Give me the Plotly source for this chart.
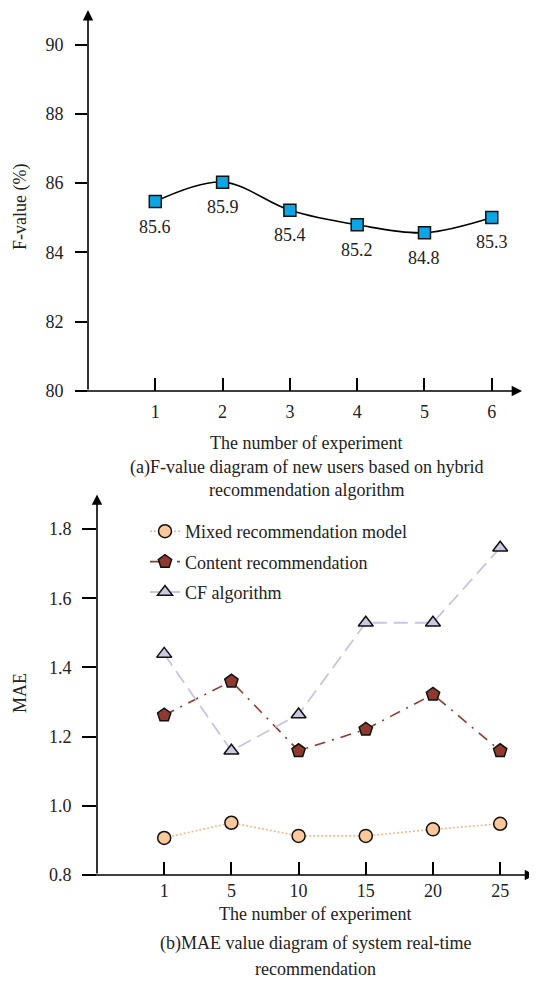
import plotly.graph_objects as go

# ---------------- data ----------------
exp_a = [1, 2, 3, 4, 5, 6]
fvalue = [85.47, 86.03, 85.22, 84.80, 84.57, 85.01]
fvalue_labels = ["85.6", "85.9", "85.4", "85.2", "84.8", "85.3"]
fvalue_ticks = [80, 82, 84, 86, 88, 90]

exp_b = ["1", "5", "10", "15", "20", "25"]
mixed = [0.907, 0.951, 0.913, 0.913, 0.932, 0.948]
content = [1.262, 1.360, 1.159, 1.221, 1.322, 1.159]
cf = [1.439, 1.159, 1.264, 1.529, 1.529, 1.746]
mae_ticks = [0.8, 1.0, 1.2, 1.4, 1.6, 1.8]

FONT = "Liberation Serif, Times New Roman, serif"
FS = 18
OFF = 8          # page body margin
W, H = 529, 974


def px_x(p):
    return (p - OFF) / W


def px_y(p):
    return 1 - (p - OFF) / H


fig = go.Figure()

# (a) F-value
fig.add_trace(go.Scatter(
    x=exp_a, y=fvalue, mode="lines+markers", xaxis="x", yaxis="y",
    line=dict(color="black", width=1.6, shape="spline", smoothing=1.0),
    marker=dict(symbol="square", size=12, color="#0aa6e6",
                line=dict(color="#111111", width=1.5)),
    showlegend=False,
))

# (b) MAE
fig.add_trace(go.Scatter(
    x=exp_b, y=mixed, mode="lines+markers", xaxis="x2", yaxis="y2",
    name="Mixed recommendation model", legendgroup="a",
    line=dict(color="#f6b888", width=1.6, dash="2px,2px"),
    marker=dict(symbol="circle", size=13, color="#fbc89b",
                line=dict(color="#111111", width=1.5)),
))
fig.add_trace(go.Scatter(
    x=exp_b, y=content, mode="lines+markers", xaxis="x2", yaxis="y2",
    name="Content recommendation", legendgroup="b",
    line=dict(color="#8e3a2f", width=1.6, dash="11px,7px,2px,7px"),
    marker=dict(symbol="pentagon", size=14, color="#8e3a2f",
                line=dict(color="#111111", width=1.5)),
))
fig.add_trace(go.Scatter(
    x=exp_b, y=cf, mode="lines+markers", xaxis="x2", yaxis="y2",
    name="CF algorithm", legendgroup="c",
    line=dict(color="#c9c5dd", width=1.8, dash="14px,7px"),
    marker=dict(symbol="triangle-up", size=13, color="#cac7df",
                line=dict(color="#111111", width=1.5)),
))

annotations = []
# value labels under the squares
for xv, yv, t in zip(exp_a, fvalue, fvalue_labels):
    annotations.append(dict(x=xv, y=yv, xref="x", yref="y", text=t,
                            showarrow=False, yshift=-25,
                            font=dict(family=FONT, size=FS, color="#222")))

arrow = dict(showarrow=True, arrowhead=2, arrowsize=1.3, arrowwidth=1.6,
             arrowcolor="black", text="", standoff=0)
# axes with arrows (a)
annotations.append(dict(x=6.45, y=80, ax=-0.178, ay=80, xref="x", yref="y",
                        axref="x", ayref="y", **arrow))
annotations.append(dict(x=0, y=91, ax=0, ay=80, xref="x", yref="y",
                        axref="x", ayref="y", **arrow))
# axes with arrows (b)
annotations.append(dict(x=5.52, y=0.8, ax=-1.21, ay=0.8, xref="x2", yref="y2",
                        axref="x2", ayref="y2", **arrow))
annotations.append(dict(x=-1, y=1.9, ax=-1, ay=0.8, xref="x2", yref="y2",
                        axref="x2", ayref="y2", **arrow))

txt = dict(showarrow=False, xref="paper", yref="paper",
           font=dict(family=FONT, size=FS, color="#222"),
           xanchor="center", yanchor="middle")
annotations += [
    dict(x=px_x(20), y=px_y(207), text="F-value (%)", textangle=-90, **txt),
    dict(x=px_x(306), y=px_y(443), text="The number of experiment", **txt),
    dict(x=px_x(306), y=px_y(467),
         text="(a)F-value diagram of new users based on hybrid", **txt),
    dict(x=px_x(306), y=px_y(490), text="recommendation algorithm", **txt),
    dict(x=px_x(20), y=px_y(693), text="MAE", textangle=-90, **txt),
    dict(x=px_x(315), y=px_y(914), text="The number of experiment", **txt),
    dict(x=px_x(315), y=px_y(943),
         text="(b)MAE value diagram of system real-time", **txt),
    dict(x=px_x(315), y=px_y(969), text="recommendation", **txt),
]

tickfont = dict(family=FONT, size=FS, color="#222")

fig.update_layout(
    width=W, height=H,
    margin=dict(l=0, r=0, t=0, b=0),
    paper_bgcolor="white", plot_bgcolor="white",
    font=dict(family=FONT, size=FS, color="#222"),
    xaxis=dict(domain=[px_x(88), px_x(530)], range=[0, 6.568],
               tickvals=exp_a, ticks="inside", ticklen=13, tickwidth=1.5,
               tickcolor="black", showgrid=False, zeroline=False,
               showline=False, tickfont=tickfont, ticklabelstandoff=8,
               anchor="y", automargin=False),
    yaxis=dict(domain=[px_y(391), px_y(10)], range=[80, 91],
               tickvals=fvalue_ticks, ticks="outside", ticklen=12,
               tickwidth=1.5, tickcolor="black", showgrid=False,
               zeroline=False, showline=False, tickfont=tickfont,
               ticklabelstandoff=8, anchor="x", automargin=False),
    xaxis2=dict(domain=[px_x(97), 1.0], range=[-1, 5.548], type="category",
                categoryorder="array", categoryarray=exp_b,
                ticks="inside", ticklen=13, tickwidth=1.5, tickcolor="black",
                showgrid=False, zeroline=False, showline=False,
                tickfont=tickfont, ticklabelstandoff=3, anchor="y2",
                automargin=False),
    yaxis2=dict(domain=[px_y(875), px_y(494.4)], range=[0.8, 1.9],
                tickvals=mae_ticks, tickformat=".1f", ticks="outside",
                ticklen=14, tickwidth=1.5, tickcolor="black", showgrid=False,
                zeroline=False, showline=False, tickfont=tickfont,
                ticklabelstandoff=7, anchor="x2", automargin=False),
    legend=dict(x=px_x(145), y=px_y(513), xanchor="left", yanchor="top",
                bgcolor="rgba(0,0,0,0)", borderwidth=0, tracegroupgap=4,
                font=dict(family=FONT, size=FS, color="#222")),
    annotations=annotations,
)

fig.write_html("out.html")
